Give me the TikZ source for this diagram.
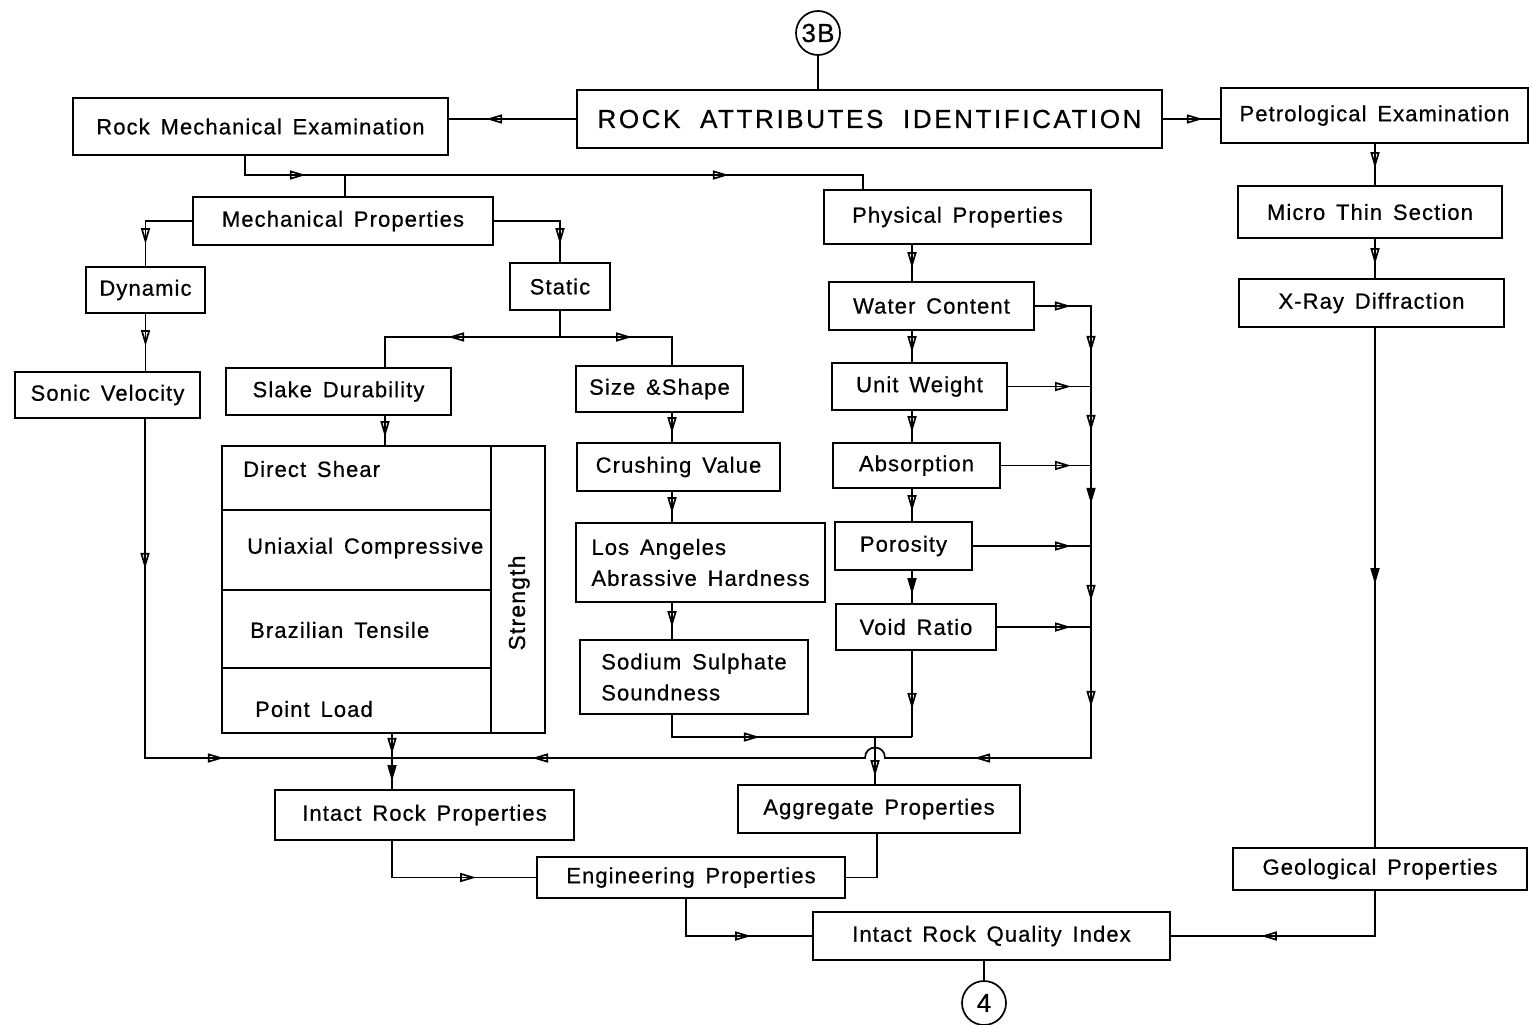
\documentclass[tikz,border=0pt]{standalone}
\usepackage{fontspec}
\setmainfont{Liberation Sans}[LetterSpace=5,WordSpace=1.5,FakeBold=0.6]
\newfontfamily\titlefont{Liberation Sans}[LetterSpace=10,WordSpace=2,FakeBold=0.6]
\usetikzlibrary{arrows.meta,decorations.markings}
\tikzset{
  oarr/.tip={Triangle[open,length=16pt,width=9pt]},
  farr/.tip={Triangle[length=16pt,width=9pt]},
  arrat/.style={postaction={decorate,decoration={markings,mark=at position #1 with {\arrow{oarr}}}}},
  farrat/.style={postaction={decorate,decoration={markings,mark=at position #1 with {\arrow{farr}}}}},
  box/.style={draw,line width=1.7pt,inner sep=0pt,font=\fontsize{22}{31}\selectfont},
  circ/.style={draw,circle,line width=1.7pt,minimum size=44pt,inner sep=0pt,font=\fontsize{26}{28}\selectfont},
  lbl/.style={inner sep=0pt,anchor=west,font=\fontsize{22}{26}\selectfont},
  con/.style={line width=1.7pt},
}
\newcommand\Bx[7][]{\node[box,#1,minimum width={#5-#3},minimum height={#6-#4}] (#2) at ({(#3+#5)/2},{(#4+#6)/2}) {#7};}
\begin{document}
\begin{tikzpicture}[x=1pt,y=-1pt]
\fill[white] (0,0) rectangle (1532,1025);
\useasboundingbox (0,0) rectangle (1532,1025);

% circles
\node[circ] (c3b) at (818,33) {3B};
\node[circ] (c4) at (984,1003) {4};

% boxes
\Bx{rai}{577}{90}{1162}{148}{\titlefont\fontsize{26}{30}\selectfont ROCK ATTRIBUTES IDENTIFICATION}
\Bx{rme}{73}{98}{448}{155}{Rock Mechanical Examination}
\Bx{pet}{1221}{88}{1528}{143}{Petrological Examination}
\Bx{mp}{193}{197}{493}{245}{Mechanical Properties}
\Bx{phys}{824}{190}{1091}{244}{Physical Properties}
\Bx{dyn}{86}{267}{205}{313}{Dynamic}
\Bx{stat}{510}{263}{610}{310}{Static}
\Bx{mts}{1238}{186}{1502}{238}{Micro Thin Section}
\Bx{xrd}{1239}{279}{1504}{327}{X-Ray Diffraction}
\Bx{wc}{829}{282}{1034}{330}{Water Content}
\Bx{uw}{832}{363}{1007}{410}{Unit Weight}
\Bx{abs}{833}{443}{1000}{488}{Absorption}
\Bx{por}{835}{522}{972}{570}{Porosity}
\Bx{vr}{836}{604}{996}{650}{Void Ratio}
\Bx{sv}{15}{372}{200}{418}{Sonic Velocity}
\Bx{sd}{226}{368}{451}{415}{Slake Durability}
\Bx{ss}{576}{366}{743}{412}{Size \&Shape}
\Bx{cv}{577}{443}{780}{491}{Crushing Value}
\Bx[align=left]{la}{576}{523}{825}{602}{Los Angeles\\Abrassive Hardness}
\Bx[align=left]{sod}{580}{640}{808}{714}{Sodium Sulphate\\Soundness}
\Bx{str}{222}{446}{545}{733}{}
\Bx{irp}{275}{790}{574}{840}{Intact Rock Properties}
\Bx{agg}{738}{785}{1020}{833}{Aggregate Properties}
\Bx{eng}{537}{857}{845}{898}{Engineering Properties}
\Bx{geo}{1233}{848}{1527}{890}{Geological Properties}
\Bx{irqi}{813}{912}{1170}{960}{Intact Rock Quality Index}

% strength block inner
\draw[con] (491,446) -- (491,733);
\draw[con] (222,510) -- (491,510);
\draw[con] (222,590) -- (491,590);
\draw[con] (222,668) -- (491,668);
\node[lbl] (ds) at (243,469) {Direct Shear};
\node[lbl] (uc) at (247,548) {Uniaxial Compressive};
\node[lbl] (bt) at (250,630) {Brazilian Tensile};
\node[lbl] (pl) at (255,709) {Point Load};
\node[inner sep=0pt,rotate=90,font=\fontsize{23}{26}\selectfont] (stl) at (519,603) {Strength};

% coordinates
\coordinate (j1) at (345,175);
\coordinate (j2) at (560,337);
\coordinate (cx) at (672,0);
\coordinate (px) at (912,0);
\coordinate (j3) at (912,737);
\coordinate (j5) at (875,737);
\coordinate (bx) at (1091,0);
\coordinate (j4) at (392,758);
\coordinate (h1) at (885,758);
\coordinate (h2) at (865,758);
\coordinate (sx) at (145,0);
\coordinate (ax) at (877,0);
\coordinate (ex) at (686,0);
\coordinate (gx) at (1375,0);

% connectors top
\draw[con] (c3b.south) -- (c3b.south |- rai.north);
\draw[con,arrat=90pt] (rai.west) -- (rai.west -| rme.east);
\draw[con,arrat=40pt] (rai.east) -- (rai.east -| pet.west);
\draw[con,arrat=80pt,arrat=503pt] ([xshift=-15.5pt]rme.south) |- (j1) -| ([xshift=-94.5pt]phys.north);
\draw[con] (j1) -- (j1 |- mp.north);
\draw[con,arrat=-22pt] (mp.west) -| (dyn.north);
\draw[con,arrat=-18pt] (mp.east) -| (stat.north);
\draw[con,arrat=-25pt] (dyn.south) -- (dyn.south |- sv.north);
\draw[con] (stat.south) -- (j2);
\draw[con,arrat=112pt] (j2) -| ([xshift=46.5pt]sd.north);
\draw[con,arrat=72pt] (j2) -| ([xshift=12.5pt]ss.north);
\draw[con,arrat=-8pt] ([xshift=46.5pt]sd.south) -- ([xshift=46.5pt]sd.south |- str.north);

% aggregate column
\draw[con,arrat=-9pt] (ss.south -| cx) -- (cv.north -| cx);
\draw[con,arrat=-9pt] (cv.south -| cx) -- (la.north -| cx);
\draw[con,arrat=-12pt] (la.south -| cx) -- (sod.north -| cx);
\draw[con,arrat=110pt] (sod.south -| cx) |- (j3);

% physical column
\draw[con,arrat=-13pt] (phys.south -| px) -- (wc.north -| px);
\draw[con,arrat=-10pt] (wc.south -| px) -- (uw.north -| px);
\draw[con,arrat=-10pt] (uw.south -| px) -- (abs.north -| px);
\draw[con,arrat=-10pt] (abs.south -| px) -- (por.north -| px);
\draw[con,farrat=-9pt] (por.south -| px) -- (vr.north -| px);
\draw[con,arrat=-28pt] (vr.south -| px) -- (j3);
\draw[con,arrat=-8pt] (j5) -- (j5 |- agg.north);

% bus
\draw[con,arrat=36pt,arrat=102pt,arrat=181pt,farrat=254pt,arrat=351pt,arrat=457pt,arrat=625pt,arrat=-140pt]
  (wc.east) -| (bx |- j4) -- (h1) .. controls (885,744) and (865,744) .. (h2) -- (j4);
\draw[con,arrat=-20pt] (uw.east) -- (uw.east -| bx);
\draw[con,arrat=-20pt] (abs.east) -- (abs.east -| bx);
\draw[con,arrat=-20pt] (por.east) -- (por.east -| bx);
\draw[con,arrat=-20pt] (vr.east) -- (vr.east -| bx);

% left
\draw[con,arrat=150pt,arrat=418pt] (sv.south -| sx) |- (j4);
\draw[con,arrat=20pt,farrat=-8pt] (j4 |- str.south) -- (j4 |- irp.north);

% bottom
\draw[con,arrat=-60pt] (irp.south -| j4) |- (eng.west);
\draw[con] (agg.south -| ax) |- (eng.east);
\draw[con,arrat=-61pt] (eng.south -| ex) |- (irqi.west);
\draw[con,arrat=-90pt] (geo.south -| gx) |- (irqi.east);
\draw[con] (irqi.south -| c4) -- (c4.north);

% right column
\draw[con,arrat=-17pt] (pet.south -| gx) -- (mts.north -| gx);
\draw[con,arrat=-14pt] (mts.south -| gx) -- (xrd.north -| gx);
\draw[con,farrat=-263pt] (xrd.south -| gx) -- (geo.north -| gx);
\end{tikzpicture}
\end{document}
